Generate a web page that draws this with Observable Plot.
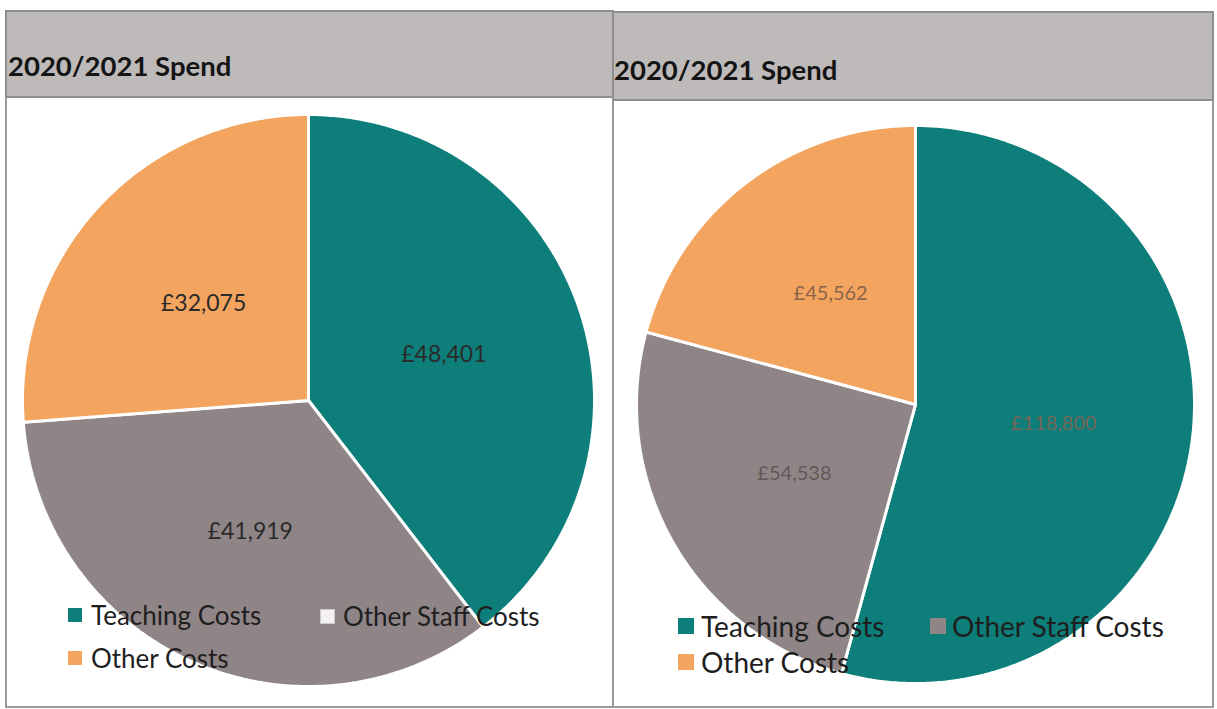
<!DOCTYPE html>
<html><head><meta charset="utf-8">
<script src="https://cdn.jsdelivr.net/npm/d3@7"></script>
<script src="https://cdn.jsdelivr.net/npm/@observablehq/plot@0.6"></script>
<style>
body{margin:0;background:#fff;font-family:Lato,sans-serif;}
#wrap{position:relative;width:1217px;height:709px;overflow:hidden;background:#fff;}
.panel{position:absolute;border:2px solid #9a9a9a;box-sizing:border-box;}
.head{position:absolute;background:#bebaba;border:2px solid #8e8e8e;box-sizing:border-box;}
.title{position:absolute;font-weight:700;font-size:27.5px;color:#141414;white-space:nowrap;line-height:30px;}
.pie{position:absolute;}
.item{position:absolute;white-space:nowrap;display:flex;align-items:center;color:#1e1e1e;line-height:30px;}
.sw{display:inline-block;box-sizing:border-box;}
</style>
</head><body>
<div id="wrap"></div>
<script>
// ---- data ----
const categories = ["Teaching Costs", "Other Staff Costs", "Other Costs"];
const leftValues = [48401, 41919, 32075];
const rightValues = [118800, 54538, 45562];
const panelTitles = ["2020/2021 Spend", "2020/2021 Spend"];
const sliceColors = ["#0d7e79", "#8f8587", "#f3a45f"];

// ---- layout ----
const wrap = document.getElementById("wrap");
function el(cls, style, text) {
  const d = document.createElement("div");
  d.className = cls;
  Object.assign(d.style, style);
  if (text != null) d.textContent = text;
  wrap.appendChild(d);
  return d;
}

// panels
el("panel", {left: "5px", top: "10px", width: "609px", height: "698px"});
el("panel", {left: "612px", top: "11px", width: "602px", height: "697px"});
el("head", {left: "5px", top: "10px", width: "609px", height: "88px"});
el("head", {left: "612px", top: "11px", width: "602px", height: "90px"});

el("title", {left: "8px", top: "51px"}, panelTitles[0]);
el("title", {left: "614px", top: "55px"}, panelTitles[1]);

const fmt = d3.format(",");

function pieChart(values, r, size, labelColors, fontSize, labelOpacity) {
  const arcs = d3.pie().sort(null).value(d => d)(values);
  const pts = [];
  const labels = [];
  arcs.forEach((a, i) => {
    const cat = categories[i];
    pts.push({cat, x: 0, y: 0});
    const n = Math.max(2, Math.ceil((a.endAngle - a.startAngle) / (Math.PI / 360)));
    for (let k = 0; k <= n; k++) {
      const t = a.startAngle + (a.endAngle - a.startAngle) * k / n;
      pts.push({cat, x: r * Math.sin(t), y: r * Math.cos(t)});
    }
    pts.push({cat, x: 0, y: 0});
    const m = (a.startAngle + a.endAngle) / 2;
    labels.push({cat, text: "£" + fmt(values[i]), x: r / 2 * Math.sin(m), y: r / 2 * Math.cos(m), c: labelColors[i]});
  });
  return Plot.plot({
    width: size, height: size, margin: 0,
    x: {domain: [-size / 2, size / 2], axis: null},
    y: {domain: [-size / 2, size / 2], axis: null},
    color: {domain: categories, range: sliceColors},
    style: {background: "transparent", overflow: "visible"},
    marks: [
      Plot.line(pts, {x: "x", y: "y", z: "cat", fill: "cat", stroke: "white", strokeWidth: 3, strokeLinejoin: "miter"}),
      Plot.text(labels, {x: "x", y: "y", text: "text", fill: d => d.c, fontSize, fontFamily: "Lato", fillOpacity: labelOpacity})
    ]
  });
}

const p1 = pieChart(leftValues, 286, 600, ["#2a2a2a", "#2a2a2a", "#2a2a2a"], 23, 1);
p1.classList.add("pie");
Object.assign(p1.style, {left: "8px", top: "100px"});
wrap.appendChild(p1);

const p2 = pieChart(rightValues, 279, 600, ["#7e6456", "#5f5555", "#845f48"], 20, 0.95);
p2.classList.add("pie");
Object.assign(p2.style, {left: "615px", top: "104px"});
wrap.appendChild(p2);

// ---- legends ----
function legendItem(i, x, yc, sq, fs, gap, swStyle) {
  const d = el("item", {left: x + "px", top: (yc - 15) + "px", fontSize: fs + "px"});
  const s = document.createElement("span");
  s.className = "sw";
  Object.assign(s.style, {width: sq + "px", height: sq + "px", background: sliceColors[i], marginRight: gap + "px"}, swStyle || {});
  d.appendChild(s);
  d.appendChild(document.createTextNode(categories[i]));
}
legendItem(0, 68, 615, 14, 26, 9);
legendItem(1, 320, 616, 15, 26, 8, {background: "#f3f1f1", border: "1px solid #cfcaca"});
legendItem(2, 68, 658, 14, 26, 9);

legendItem(0, 678, 626, 16, 28, 7);
legendItem(1, 930, 626, 16, 28, 6);
legendItem(2, 678, 662, 16, 28, 7);
</script>
</body></html>
